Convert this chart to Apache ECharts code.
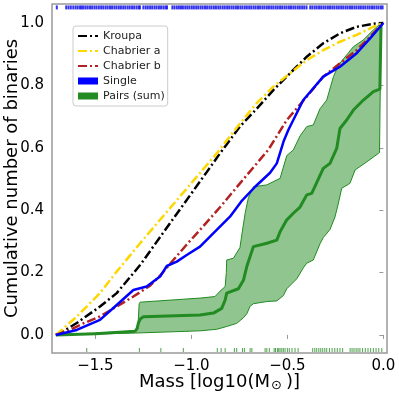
<!DOCTYPE html>
<html>
<head>
<meta charset="utf-8">
<script src="https://cdn.jsdelivr.net/npm/echarts@6/dist/echarts.min.js"></script>
<style>
html, body { margin: 0; padding: 0; background: #fff; }
#chart { width: 399px; height: 397px; }
</style>
</head>
<body>
<div id="chart"></div>
<script>
// cumulative curves, [log10 mass, fraction]
var kroupa = [[-1.706,0],[-1.684,0.005],[-1.597,0.038],[-1.476,0.091],[-1.389,0.134],[-1.302,0.198],[-1.267,0.224],[-1.094,0.373],[-0.92,0.522],[-0.851,0.582],[-0.747,0.668],[-0.66,0.725],[-0.573,0.785],[-0.486,0.839],[-0.399,0.892],[-0.313,0.935],[-0.226,0.967],[-0.139,0.988],[-0.035,0.999],[0,1]];
var chabrierA = [[-1.706,0],[-1.684,0.011],[-1.597,0.059],[-1.476,0.134],[-1.389,0.203],[-1.267,0.294],[-1.094,0.419],[-0.868,0.582],[-0.747,0.678],[-0.66,0.743],[-0.573,0.796],[-0.486,0.839],[-0.399,0.881],[-0.313,0.913],[-0.226,0.94],[-0.139,0.962],[-0.052,0.988],[0,1]];
var chabrierB = [[-1.706,0],[-1.632,0.016],[-1.563,0.037],[-1.476,0.059],[-1.389,0.091],[-1.302,0.123],[-1.215,0.158],[-1.163,0.19],[-1.094,0.24],[-1.024,0.29],[-0.955,0.337],[-0.85,0.41],[-0.747,0.486],[-0.6,0.593],[-0.503,0.689],[-0.399,0.764],[-0.313,0.828],[-0.226,0.871],[-0.139,0.913],[-0.069,0.956],[0,1]];
var single = [[-1.706,0],[-1.597,0.016],[-1.476,0.048],[-1.389,0.096],[-1.302,0.144],[-1.233,0.155],[-1.163,0.187],[-1.128,0.221],[-1.076,0.235],[-1.024,0.256],[-0.955,0.283],[-0.868,0.337],[-0.799,0.379],[-0.74,0.428],[-0.668,0.475],[-0.59,0.52],[-0.555,0.55],[-0.52,0.62],[-0.495,0.657],[-0.417,0.753],[-0.313,0.828],[-0.226,0.86],[-0.139,0.903],[-0.069,0.951],[0,1]];
var pairsMedian = [[-1.706,0],[-1.5,0.004],[-1.293,0.012],[-1.283,0.02],[-1.275,0.04],[-1.265,0.052],[-1.25,0.058],[-0.955,0.064],[-0.885,0.07],[-0.842,0.085],[-0.824,0.112],[-0.816,0.134],[-0.755,0.148],[-0.729,0.175],[-0.711,0.22],[-0.677,0.283],[-0.607,0.294],[-0.555,0.304],[-0.538,0.331],[-0.503,0.369],[-0.469,0.39],[-0.434,0.41],[-0.399,0.449],[-0.373,0.454],[-0.313,0.534],[-0.278,0.55],[-0.243,0.598],[-0.226,0.662],[-0.191,0.689],[-0.156,0.721],[-0.104,0.753],[-0.052,0.78],[-0.018,0.788],[-0.012,1.0]];
var pairsLower = [[-1.706,0],[-1.29,0.006],[-0.955,0.013],[-0.868,0.018],[-0.816,0.027],[-0.764,0.037],[-0.729,0.055],[-0.711,0.068],[-0.694,0.092],[-0.677,0.1],[-0.607,0.107],[-0.555,0.109],[-0.521,0.126],[-0.503,0.148],[-0.451,0.18],[-0.417,0.215],[-0.399,0.23],[-0.365,0.24],[-0.33,0.292],[-0.313,0.312],[-0.278,0.338],[-0.252,0.378],[-0.235,0.42],[-0.217,0.47],[-0.174,0.486],[-0.147,0.529],[-0.086,0.555],[-0.026,0.582],[-0.02,0.585],[-0.012,1.0]];
var pairsUpper = [[-1.706,0],[-1.29,0.012],[-1.279,0.02],[-1.272,0.1],[-1.267,0.105],[-0.955,0.118],[-0.877,0.123],[-0.851,0.14],[-0.824,0.155],[-0.818,0.2],[-0.816,0.24],[-0.781,0.246],[-0.747,0.28],[-0.735,0.33],[-0.72,0.39],[-0.703,0.44],[-0.677,0.475],[-0.607,0.481],[-0.538,0.502],[-0.503,0.575],[-0.469,0.593],[-0.434,0.638],[-0.399,0.668],[-0.365,0.673],[-0.33,0.725],[-0.295,0.753],[-0.26,0.828],[-0.234,0.865],[-0.156,0.924],[-0.104,0.946],[-0.052,0.978],[-0.012,1.0]];

// rug positions
var singleRug = [-1.701,-1.652,-1.640,-1.628,-1.615,-1.603,-1.592,-1.580,-1.571,
  -1.562,-1.551,-1.540,-1.528,-1.517,-1.505,-1.494,-1.482,-1.470,-1.459,-1.447,-1.436,-1.424,-1.413,-1.401,-1.390,-1.378,-1.367,-1.355,-1.344,-1.332,-1.321,-1.309,-1.298,-1.286,-1.275,-1.268,
  -1.250,-1.238,-1.227,-1.215,-1.204,-1.192,-1.181,-1.169,-1.158,-1.146,-1.135,-1.127,
  -1.099,-1.088,-1.076,-1.065,-1.054,-1.044,
  -1.032,-1.021,-1.010,-0.998,-0.987,-0.975,-0.964,-0.952,-0.941,-0.929,-0.918,-0.906,-0.895,-0.883,-0.872,-0.860,-0.849,-0.837,-0.826,-0.814,-0.803,-0.791,-0.780,-0.768,-0.757,-0.745,-0.734,-0.722,-0.711,-0.699,-0.688,-0.676,-0.665,-0.653,-0.642,-0.630,-0.619,-0.607,-0.596,-0.584,-0.573,-0.561,-0.550,-0.538,-0.527,-0.515,-0.504,-0.492,-0.481,-0.469,-0.458,-0.446,-0.435,-0.423,-0.412,-0.400,
  -0.381,-0.370,-0.358,-0.347,-0.335,-0.324,-0.312,-0.301,-0.289,-0.278,-0.266,-0.255,-0.243,-0.232,-0.220,-0.209,-0.197,-0.186,-0.174,-0.163,-0.151,-0.140,-0.128,-0.117,-0.105,-0.094,-0.082,-0.071,-0.059,-0.048,-0.036,-0.025,-0.013,-0.004];
var pairsRug = [-1.545,-1.271,-1.159,-1.042,-0.865,-0.845,-0.824,-0.776,-0.764,-0.734,-0.724,-0.694,-0.685,-0.616,-0.607,-0.594,-0.569,-0.562,-0.552,-0.545,-0.538,-0.529,-0.521,-0.512,-0.5,-0.49,-0.476,-0.46,-0.444,-0.368,-0.357,-0.347,-0.336,-0.326,-0.316,-0.305,-0.295,-0.281,-0.267,-0.253,-0.24,-0.226,-0.212,-0.173,-0.163,-0.153,-0.142,-0.132,-0.122,-0.108,-0.094,-0.08,-0.066,-0.052,-0.038,-0.024,-0.008];
var singleRugY = 1.05, pairsRugY = -0.048;

var xTicks = [-1.5, -1.0, -0.5, 0.0];
var yTicks = [0, 0.2, 0.4, 0.6, 0.8, 1.0];

var FONT = 'DejaVu Sans';
function fmt(v) { return v.toFixed(1).replace('-', '\u2212'); }

function dashLine(name, data, color) {
	return {
		name: name, type: 'line', data: data, symbol: 'none', z: 4,
		lineStyle: { color: color, width: 2.5, type: [9, 3, 2, 3] },
		itemStyle: { color: color }
	};
}

var myChart = echarts.init(document.getElementById('chart'), null, { renderer: 'canvas' });
myChart.setOption({
	animation: false,
	backgroundColor: '#fff',
	textStyle: { fontFamily: FONT },
	grid: { left: 52, right: 12, top: 4, bottom: 44, containLabel: false, outerBoundsMode: 'none', show: true, borderColor: '#999', borderWidth: 1.5, backgroundColor: 'transparent' },
	xAxis: {
		type: 'value', min: -1.726, max: 0.019,
		name: 'Mass [log10(M{sub|\u2299 })]', nameLocation: 'middle', nameGap: 19, nameMoveOverlap: false,
		nameTextStyle: { fontSize: 18, color: '#000', fontFamily: FONT, rich: { sub: { fontSize: 13, fontFamily: FONT, color: '#000', padding: [7, 0, 0, 1] } } },
		axisLine: { show: false },
		splitLine: { show: false },
		axisTick: { show: true, length: 4, lineStyle: { color: '#999' }, customValues: xTicks },
		axisLabel: { fontSize: 15, color: '#000', margin: 6, fontFamily: FONT, customValues: xTicks, formatter: fmt }
	},
	yAxis: {
		type: 'value', min: -0.058, max: 1.061,
		name: 'Cumulative number of binaries', nameLocation: 'middle', nameGap: 31, nameMoveOverlap: false,
		nameTextStyle: { fontSize: 18, color: '#000', fontFamily: FONT },
		axisLine: { show: false },
		splitLine: { show: false },
		axisTick: { show: true, length: 4, lineStyle: { color: '#999' }, customValues: yTicks },
		axisLabel: { fontSize: 15, color: '#000', margin: 8, fontFamily: FONT, customValues: yTicks, formatter: fmt }
	},
	legend: {
		left: 73, top: 26, orient: 'vertical',
		itemWidth: 20, itemHeight: 7, itemGap: 3,
		padding: [4, 3, 4, 4],
		backgroundColor: 'rgba(255,255,255,0.8)', borderColor: '#ccc', borderWidth: 1, borderRadius: 3,
		textStyle: { fontSize: 11, color: '#222', fontFamily: FONT, lineHeight: 12 },
		data: [
			{ name: 'Kroupa', itemStyle: { opacity: 0 } },
			{ name: 'Chabrier a', itemStyle: { opacity: 0 } },
			{ name: 'Chabrier b', itemStyle: { opacity: 0 } },
			{ name: 'Single', icon: 'rect' },
			{ name: 'Pairs (sum)', icon: 'rect', itemStyle: { color: '#228B22', opacity: 1 } }
		]
	},
	series: [
		{
			name: 'Pairs (sum)', type: 'custom', z: 1,
			itemStyle: { color: '#228B22' },
			data: [0],
			renderItem: function(params, api) {
				var pts = pairsUpper.map(function(p) { return api.coord(p); });
				var low = pairsLower.slice().reverse().map(function(p) { return api.coord(p); });
				return {
					type: 'polygon',
					shape: { points: pts.concat(low) },
					style: { fill: 'rgba(34,139,34,0.5)', stroke: '#228B22', lineWidth: 1 }
				};
			}
		},
		{
			name: 'Pairs median', type: 'line', data: pairsMedian, symbol: 'none', z: 2,
			lineStyle: { color: '#228B22', width: 3 }, itemStyle: { color: '#228B22' }
		},
		dashLine('Kroupa', kroupa, '#000'),
		dashLine('Chabrier a', chabrierA, '#FFD700'),
		dashLine('Chabrier b', chabrierB, '#B22222'),
		{
			name: 'Single', type: 'line', data: single, symbol: 'none', z: 5,
			lineStyle: { color: '#0000FF', width: 2.5 }, itemStyle: { color: '#0000FF' }
		},
		{
			name: 'Single rug', type: 'scatter', z: 3, symbol: 'rect', symbolSize: [2, 4],
			itemStyle: { color: '#0000EE' },
			data: singleRug.map(function(x) { return [x, singleRugY]; })
		},
		{
			name: 'Pairs rug', type: 'scatter', z: 3, symbol: 'rect', symbolSize: [1, 4],
			itemStyle: { color: '#228B22', opacity: 0.8 },
			data: pairsRug.map(function(x) { return [x, pairsRugY]; })
		}
	]
});
</script>
</body>
</html>
